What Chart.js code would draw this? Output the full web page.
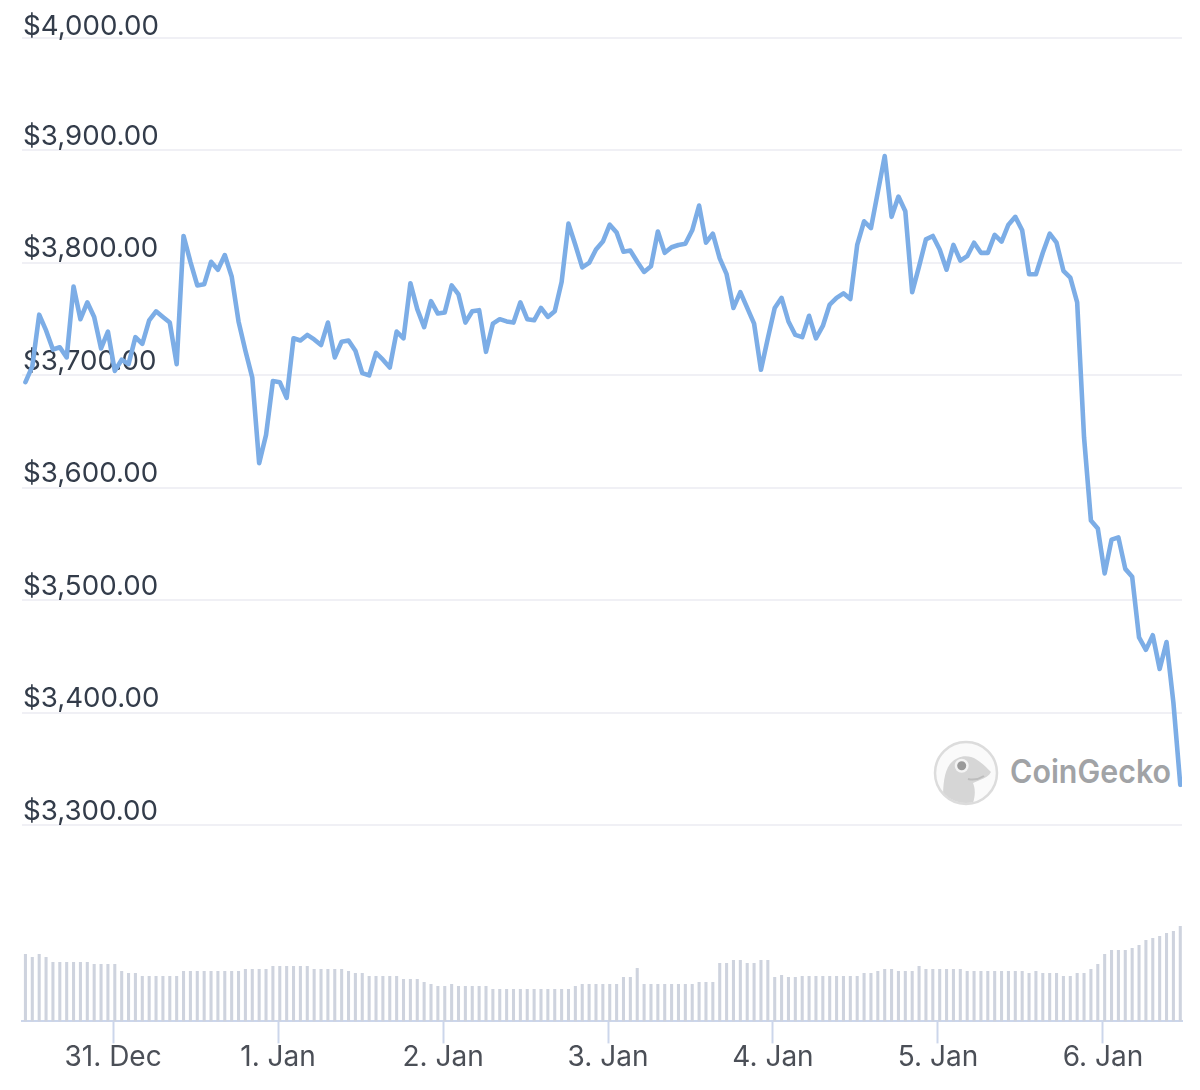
<!DOCTYPE html>
<html>
<head>
<meta charset="utf-8">
<title>Price chart</title>
<script src="https://cdn.jsdelivr.net/npm/chart.js@4"></script>
<style>
    html, body { margin: 0; padding: 0; background: #fff; }
    #wrap { position: relative; width: 1200px; height: 1090px; }
    #logo { position: absolute; left: 0; top: 0; }
    #chart { position: absolute; left: 0; top: 0; }
</style>
</head>
<body>
<div id="wrap">
    <svg id="logo" width="1200" height="1090">
        <defs><clipPath id="disc"><circle cx="966" cy="773" r="30"/></clipPath></defs>
        <circle cx="966" cy="773" r="31" fill="#fafafa" stroke="#dcdcdc" stroke-width="2.5"/>
        <path clip-path="url(#disc)" fill="#d6d6d6" d="M943 800 C943 785 944 772 950 764 C956 757 964 755 971 757 C978 759 985 766 991 772 C989 776 985 778 980 780 L973 783 C976 790 975 798 972 806 Z"/>
        <circle cx="961.7" cy="765.7" r="7" fill="#f4f4f4"/>
        <circle cx="961.7" cy="765.7" r="4.5" fill="#9a9a9a"/>
        <path d="M968 779 Q976 781 984 776" fill="none" stroke="#bdbdbd" stroke-width="2"/>
        <text x="1010" y="783" font-family="Inter" font-weight="600" font-size="32" fill="#a1a3a6" textLength="161" lengthAdjust="spacingAndGlyphs">CoinGecko</text>
    </svg>
    <canvas id="chart" width="1200" height="1090"></canvas>
</div>
<script>
// hours relative to midnight of 31 Dec, one reading per hour
const firstHour = -12.75;

const prices = [
    3694, 3708, 3754, 3740, 3723, 3725, 3716, 3779, 3750, 3765, 3752, 3724, 3739, 3704, 3714, 3710,
    3734, 3728, 3749, 3757, 3752, 3747, 3710, 3824, 3801, 3780, 3781, 3801, 3794, 3807, 3788, 3748,
    3722, 3698, 3622, 3647, 3695, 3694, 3680, 3733, 3731, 3736, 3732, 3727, 3747, 3716, 3730, 3731,
    3722, 3702, 3700, 3720, 3714, 3707, 3739, 3733, 3782, 3759, 3743, 3766, 3755, 3756, 3780, 3772,
    3747, 3757, 3758, 3721, 3746, 3750, 3748, 3747, 3765, 3750, 3749, 3760, 3752, 3757, 3783, 3835,
    3816, 3796, 3800, 3812, 3819, 3834, 3827, 3810, 3811, 3801, 3792, 3797, 3828, 3809, 3814, 3816,
    3817, 3829, 3851, 3818, 3826, 3804, 3790, 3760, 3774, 3760, 3746, 3705, 3733, 3760, 3769, 3748,
    3736, 3734, 3753, 3733, 3744, 3763, 3769, 3773, 3768, 3816, 3837, 3831, 3863, 3895, 3841, 3859,
    3846, 3774, 3797, 3821, 3824, 3812, 3794, 3816, 3802, 3806, 3818, 3809, 3809, 3825, 3819, 3834,
    3841, 3829, 3790, 3790, 3809, 3826, 3818, 3793, 3787, 3765, 3645, 3571, 3564, 3524, 3554, 3556,
    3528, 3521, 3467, 3456, 3469, 3439, 3463, 3409, 3336
];

// no volume axis in the picture, so these are relative heights
const volumes = [
    67, 64, 67, 64, 59, 59, 59, 59, 59, 59, 57, 57, 57, 57, 50, 48,
    48, 45, 45, 45, 45, 45, 45, 50, 50, 50, 50, 50, 50, 50, 50, 50,
    52, 52, 52, 52, 55, 55, 55, 55, 55, 55, 52, 52, 52, 52, 52, 50,
    48, 48, 45, 45, 45, 45, 45, 42, 42, 42, 39, 37, 35, 35, 37, 35,
    35, 35, 35, 35, 32, 32, 32, 32, 32, 32, 32, 32, 32, 32, 32, 32,
    35, 37, 37, 37, 37, 37, 37, 44, 44, 53, 37, 37, 37, 37, 37, 37,
    37, 37, 39, 39, 39, 58, 58, 61, 61, 58, 58, 61, 61, 44, 46, 44,
    44, 45, 45, 45, 45, 45, 45, 45, 45, 45, 48, 48, 50, 52, 52, 50,
    50, 50, 55, 52, 52, 52, 52, 52, 52, 50, 50, 50, 50, 50, 50, 50,
    50, 50, 48, 50, 48, 48, 48, 45, 45, 48, 48, 52, 57, 67, 71, 71,
    71, 73, 76, 81, 83, 85, 88, 90, 95
];

const dayHours = [0, 24, 48, 72, 96, 120, 144];
const dayLabels = ['31. Dec', '1. Jan', '2. Jan', '3. Jan', '4. Jan', '5. Jan', '6. Jan'];

const priceMin = 3300;
const priceMax = 4000;

const hours = prices.map((p, i) => firstHour + i);

const font = 'Inter';

new Chart(document.getElementById('chart'), {
    data: {
        datasets: [
            {
                type: 'line',
                data: hours.map((h, i) => ({ x: h, y: prices[i] })),
                yAxisID: 'y',
                borderColor: '#7cade6',
                borderWidth: 4.6,
                pointRadius: 0,
                tension: 0,
                borderJoinStyle: 'round',
                borderCapStyle: 'round',
                order: 0
            },
            {
                type: 'bar',
                data: hours.map((h, i) => ({ x: h, y: volumes[i] })),
                yAxisID: 'y2',
                backgroundColor: '#ced3de',
                barThickness: 2.4,
                order: 1
            }
        ]
    },
    options: {
        responsive: false,
        animation: false,
        layout: { padding: { left: 22, right: 18, top: 38, bottom: 19 } },
        plugins: { legend: { display: false }, tooltip: { enabled: false } },
        scales: {
            x: {
                type: 'linear',
                offset: false,
                min: -13.25,
                max: 155.5,
                afterBuildTicks: scale => { scale.ticks = dayHours.map(v => ({ value: v })); },
                border: { color: '#ccd6eb', width: 2 },
                grid: { offset: false, drawOnChartArea: false, drawTicks: true, tickLength: 22, tickWidth: 2, tickColor: '#ccd6eb' },
                ticks: {
                    autoSkip: false,
                    maxRotation: 0,
                    padding: -3,
                    color: '#4b4f57',
                    font: { family: font, size: 28 },
                    callback: value => dayLabels[dayHours.indexOf(value)]
                }
            },
            // stacked axes on the left are laid out bottom first
            y2: {
                stack: 'panes',
                stackWeight: 196,
                position: 'left',
                min: 0,
                max: 196,
                afterFit: scale => { scale.width = 0; },
                border: { display: false },
                grid: { display: false },
                ticks: { display: false }
            },
            y: {
                stack: 'panes',
                stackWeight: 787,
                position: 'left',
                min: priceMin,
                max: priceMax,
                afterFit: scale => { scale.width = 0; },
                border: { display: false },
                grid: { color: '#f0f0f5', lineWidth: 2, drawTicks: false },
                ticks: {
                    mirror: true,
                    autoSkip: false,
                    stepSize: 100,
                    padding: 1,
                    color: '#333c4a',
                    // top label sits closer to its line than the others
                    font: ctx => ({ family: font, size: 27.7, lineHeight: ctx.tick?.value === priceMax ? '22px' : '28px' }),
                    // the empty second line lifts the label above its grid line
                    callback: value => ['$' + value.toLocaleString('en-US', { minimumFractionDigits: 2 }), '']
                }
            }
        }
    }
});
</script>
</body>
</html>
